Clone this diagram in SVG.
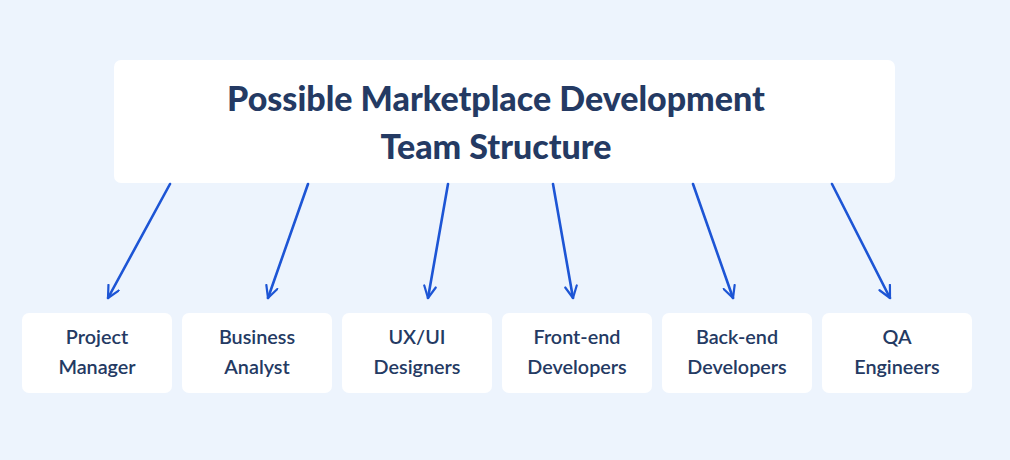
<svg xmlns="http://www.w3.org/2000/svg" width="1010" height="460" viewBox="0 0 1010 460">
<style>
.box{fill:#fff}
.t{font-family:Lato,"Liberation Sans",sans-serif;font-weight:700;fill:#243A63;text-anchor:middle}
.title{font-size:34px;font-weight:900}
.lbl{font-size:19.8px;font-weight:600}
.c{stroke:#1D55D5;stroke-width:2.6;fill:none;stroke-linecap:round}
</style>
<defs><marker id="a" viewBox="0 0 12 12" refX="11" refY="6" markerWidth="14" markerHeight="14" markerUnits="userSpaceOnUse" orient="auto"><path d="M1 1 L11 6 L1 11" fill="none" stroke="#1D55D5" stroke-width="1.9" stroke-linecap="round" stroke-linejoin="round"/></marker></defs>
<rect width="1010" height="460" fill="#EDF4FD"/>
<g id="title"><rect class="box" x="114" y="60" width="781" height="123" rx="7"/>
<text class="t title" x="496" y="111">Possible Marketplace Development</text>
<text class="t title" x="496" y="159">Team Structure</text></g>
<g id="connectors">
<path class="c" marker-end="url(#a)" d="M170 184 L108 298"/>
<path class="c" marker-end="url(#a)" d="M308 184 L268 298"/>
<path class="c" marker-end="url(#a)" d="M448 184 L428 298"/>
<path class="c" marker-end="url(#a)" d="M553 184 L573 298"/>
<path class="c" marker-end="url(#a)" d="M693 184 L733 298"/>
<path class="c" marker-end="url(#a)" d="M832 184 L890 298"/>
</g>
<g id="n1"><rect class="box" x="22" y="313" width="150" height="80" rx="7"/><text class="t lbl" x="97" y="344">Project</text><text class="t lbl" x="97" y="374">Manager</text></g>
<g id="n2"><rect class="box" x="182" y="313" width="150" height="80" rx="7"/><text class="t lbl" x="257" y="344">Business</text><text class="t lbl" x="257" y="374">Analyst</text></g>
<g id="n3"><rect class="box" x="342" y="313" width="150" height="80" rx="7"/><text class="t lbl" x="417" y="344">UX/UI</text><text class="t lbl" x="417" y="374">Designers</text></g>
<g id="n4"><rect class="box" x="502" y="313" width="150" height="80" rx="7"/><text class="t lbl" x="577" y="344">Front-end</text><text class="t lbl" x="577" y="374">Developers</text></g>
<g id="n5"><rect class="box" x="662" y="313" width="150" height="80" rx="7"/><text class="t lbl" x="737" y="344">Back-end</text><text class="t lbl" x="737" y="374">Developers</text></g>
<g id="n6"><rect class="box" x="822" y="313" width="150" height="80" rx="7"/><text class="t lbl" x="897" y="344">QA</text><text class="t lbl" x="897" y="374">Engineers</text></g>
</svg>
